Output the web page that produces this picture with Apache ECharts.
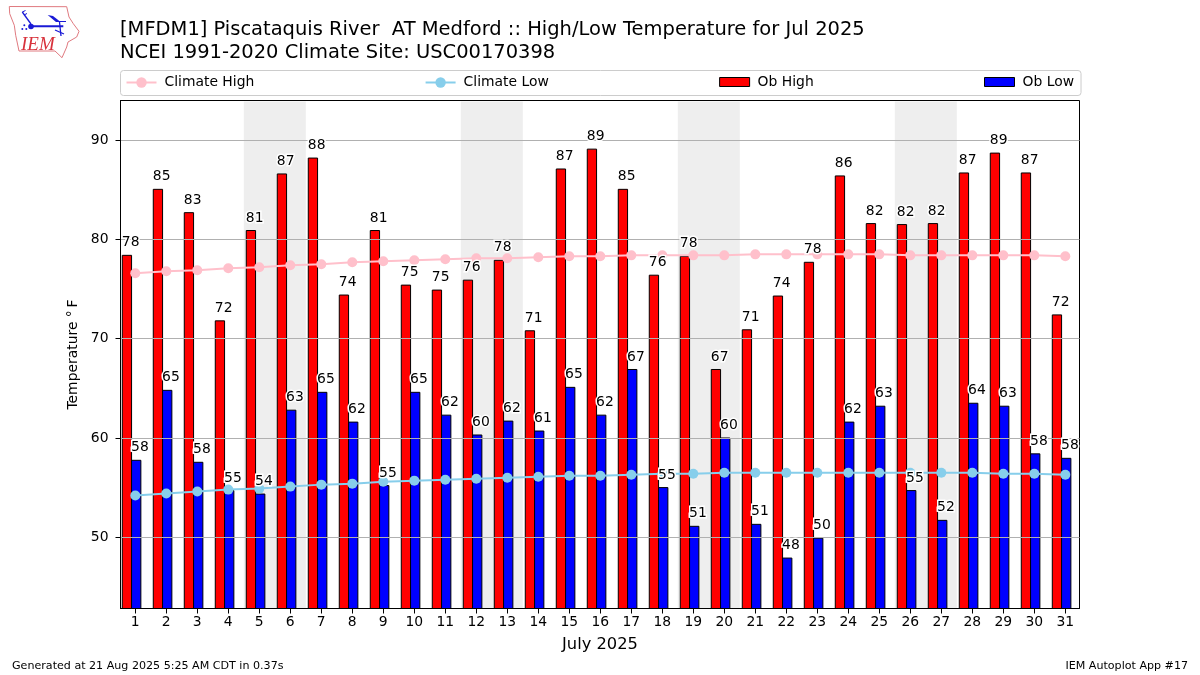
<!DOCTYPE html>
<html>
<head>
<meta charset="utf-8">
<script src="https://cdn.jsdelivr.net/npm/echarts@6/dist/echarts.min.js"></script>
<style>
html, body { margin: 0; padding: 0; background: #fff; }
#main { width: 1200px; height: 675px; }
</style>
</head>
<body>
<div id="main"></div>
<script>
var days = [1,2,3,4,5,6,7,8,9,10,11,12,13,14,15,16,17,18,19,20,21,22,23,24,25,26,27,28,29,30,31];
var obHigh = [78.4,85.05,82.7,71.8,80.9,86.6,88.2,74.4,80.9,75.4,74.9,75.9,77.9,70.8,87.1,89.1,85.05,76.4,78.3,66.9,70.9,74.3,77.7,86.4,81.6,81.5,81.6,86.7,88.7,86.7,72.4];
var obLow = [57.75,64.8,57.55,54.7,54.35,62.8,64.6,61.6,55.2,64.6,62.3,60.3,61.7,60.7,65.1,62.3,66.9,55.0,51.1,60.0,51.3,47.9,49.9,61.6,63.2,54.7,51.7,63.5,63.2,58.4,57.95];
var climateHigh = [76.6,76.8,76.9,77.1,77.2,77.4,77.5,77.7,77.8,77.9,78.0,78.1,78.1,78.2,78.3,78.3,78.4,78.4,78.4,78.4,78.5,78.5,78.5,78.5,78.5,78.4,78.4,78.4,78.4,78.4,78.3];
var climateLow = [54.2,54.4,54.6,54.8,54.9,55.1,55.3,55.4,55.6,55.7,55.8,55.9,56.0,56.1,56.2,56.2,56.3,56.4,56.4,56.5,56.5,56.5,56.5,56.5,56.5,56.5,56.5,56.5,56.4,56.4,56.3];
var weekendStarts = [5,12,19,26];
var yTicks = [50,60,70,80,90];

var xMin = 0.523, xMax = 31.458;
var yMin = 42.82, yMax = 94.0;
var fontName = '"DejaVu Sans"';
// rectangle legend icon, blank space above and below so it comes out shorter than the line icons
var rectIcon = 'path://M0,0 M0,1.5 H30 V10.5 H0 Z M30,13';

function pairs(vals) {
    return days.map(function (d, i) { return [d, vals[i]]; });
}

// bar drawn from the baseline up to the value, x edges are in days from the tick
function barRenderer(leftOff, rightOff, color) {
    return function (params, api) {
        var topLeft = api.coord([api.value(0) + leftOff, api.value(1)]);
        var bottomRight = api.coord([api.value(0) + rightOff, yMin]);
        return {
            type: 'rect',
            shape: { x: topLeft[0], y: topLeft[1], width: bottomRight[0] - topLeft[0], height: bottomRight[1] - topLeft[1] },
            style: { fill: color, stroke: '#000', lineWidth: 1 }
        };
    };
}

function labelRenderer(off) {
    return function (params, api) {
        var p = api.coord([api.value(0) + off, api.value(1)]);
        return {
            type: 'text',
            style: {
                text: String(Math.round(api.value(1))),
                x: p[0],
                y: p[1] - 12.5,
                align: 'center',
                verticalAlign: 'middle',
                fill: '#000',
                font: '13.9px ' + fontName,
                stroke: '#fff',
                lineWidth: 3
            }
        };
    };
}

function weekendRenderer(params, api) {
    var a = api.coord([api.value(0) - 0.5, yMax]);
    var b = api.coord([api.value(0) + 1.5, yMin]);
    return {
        type: 'rect',
        shape: { x: a[0], y: a[1] + 1, width: b[0] - a[0], height: b[1] - a[1] - 1 },
        style: { fill: '#eeeeee' }
    };
}

var myChart = echarts.init(document.getElementById('main'));

var option = {
    animation: false,
    backgroundColor: '#fff',
    textStyle: { fontFamily: fontName, color: '#000' },
    title: [
        {
            text: '[MFDM1] Piscataquis River  AT Medford :: High/Low Temperature for Jul 2025\nNCEI 1991-2020 Climate Site: USC00170398',
            left: 120, top: 19, padding: 0,
            textStyle: { fontFamily: fontName, fontSize: 19.48, fontWeight: 'normal', color: '#000', lineHeight: 22.5 }
        },
        {
            text: 'Generated at 21 Aug 2025 5:25 AM CDT in 0.37s',
            left: 12, top: 661, padding: 0,
            textStyle: { fontFamily: fontName, fontSize: 11.1, fontWeight: 'normal', color: '#000' }
        },
        {
            text: 'IEM Autoplot App #17',
            right: 12, top: 661, padding: 0,
            textStyle: { fontFamily: fontName, fontSize: 11.1, fontWeight: 'normal', color: '#000' }
        }
    ],
    legend: {
        left: 120.5, top: 70.5,
        padding: [5, 7, 6, 5],
        itemWidth: 30, itemHeight: 13, itemGap: 170.3,
        borderColor: '#ccc', borderWidth: 1, borderRadius: 3,
        selectedMode: false,
        textStyle: { fontFamily: fontName, fontSize: 13.9, color: '#000', padding: [0, 0, 0, 3] },
        data: [
            { name: 'Climate High' },
            { name: 'Climate Low' },
            { name: 'Ob High', icon: rectIcon, itemStyle: { color: 'red', borderColor: '#000', borderWidth: 1, borderJoin: 'miter' } },
            { name: 'Ob Low', icon: rectIcon, itemStyle: { color: 'blue', borderColor: '#000', borderWidth: 1, borderJoin: 'miter' } }
        ]
    },
    grid: { left: 120.5, top: 100.5, width: 959, height: 508, show: true, borderColor: '#000', borderWidth: 1, backgroundColor: '#fff' },
    xAxis: {
        type: 'value', min: xMin, max: xMax, z: 3,
        name: 'July 2025', nameLocation: 'middle', nameGap: 28,
        nameTextStyle: { fontFamily: fontName, fontSize: 16.3, color: '#000' },
        axisLine: { lineStyle: { color: '#000', width: 1 } },
        axisTick: { show: true, length: 5, customValues: days, lineStyle: { color: '#000' } },
        axisLabel: { customValues: days, fontFamily: fontName, fontSize: 13.9, color: '#000', margin: 7 },
        splitLine: { show: false }
    },
    yAxis: {
        type: 'value', min: yMin, max: yMax, z: 3,
        name: 'Temperature \u00b0\u2009F', nameLocation: 'middle', nameGap: 36,
        nameTextStyle: { fontFamily: fontName, fontSize: 13.9, color: '#000' },
        axisLine: { show: true, lineStyle: { color: '#000', width: 1 } },
        axisTick: { show: true, length: 5, customValues: yTicks, lineStyle: { color: '#000' } },
        axisLabel: { customValues: yTicks, fontFamily: fontName, fontSize: 13.9, color: '#000', margin: 12 },
        splitLine: { show: true, lineStyle: { color: '#b0b0b0', width: 1 } }
    },
    series: [
        { name: 'Weekend', type: 'custom', z: 1, silent: true, data: weekendStarts.map(function (d) { return [d, yMin]; }), encode: { x: 0, y: 1 }, renderItem: weekendRenderer },
        { name: 'Ob High', type: 'custom', z: 2, silent: true, data: pairs(obHigh), encode: { x: 0, y: 1 }, itemStyle: { color: 'red' }, renderItem: barRenderer(-0.42, -0.12, 'red') },
        { name: 'Ob Low', type: 'custom', z: 2, silent: true, data: pairs(obLow), encode: { x: 0, y: 1 }, itemStyle: { color: 'blue' }, renderItem: barRenderer(-0.12, 0.18, 'blue') },
        { name: 'Climate High', type: 'line', z: 4, silent: true, data: pairs(climateHigh), symbol: 'circle', symbolSize: 10, lineStyle: { color: 'pink', width: 2 }, itemStyle: { color: 'pink' } },
        { name: 'Climate Low', type: 'line', z: 4, silent: true, data: pairs(climateLow), symbol: 'circle', symbolSize: 10, lineStyle: { color: 'skyblue', width: 2 }, itemStyle: { color: 'skyblue' } },
        { name: 'Ob High Labels', type: 'custom', z: 5, silent: true, data: pairs(obHigh), encode: { x: 0, y: 1 }, renderItem: labelRenderer(-0.15) },
        { name: 'Ob Low Labels', type: 'custom', z: 5, silent: true, data: pairs(obLow), encode: { x: 0, y: 1 }, renderItem: labelRenderer(0.15) }
    ],
    // IEM logo, no image available so it is sketched
    graphic: [
        { type: 'polyline', z: 10, shape: { points: [[9.3,6.5],[66.7,6.7],[69,17],[73.3,23.7],[79,31.3],[76.7,37],[68,42],[66.7,47],[62,57.7],[55,51],[19,51],[15.7,35.3],[14.3,25.3],[9.7,13.7],[9.3,6.5]] }, style: { fill: 'none', stroke: '#e07a80', lineWidth: 1 } },
        { type: 'line', z: 10, shape: { x1: 31, y1: 26.3, x2: 63.3, y2: 26.3 }, style: { stroke: '#1a1ad6', lineWidth: 2 } },
        { type: 'circle', z: 10, shape: { cx: 31, cy: 26.5, r: 2.8 }, style: { fill: '#1a1ad6' } },
        { type: 'line', z: 10, shape: { x1: 31, y1: 24, x2: 22.3, y2: 12 }, style: { stroke: '#1a1ad6', lineWidth: 1.3 } },
        { type: 'line', z: 10, shape: { x1: 22.3, y1: 12, x2: 25.5, y2: 10.5 }, style: { stroke: '#1a1ad6', lineWidth: 1 } },
        { type: 'line', z: 10, shape: { x1: 24, y1: 15, x2: 27, y2: 13.5 }, style: { stroke: '#1a1ad6', lineWidth: 1 } },
        { type: 'polygon', z: 10, shape: { points: [[47.7,15],[53,16],[60,21.5],[56,22]] }, style: { fill: '#1a1ad6' } },
        { type: 'line', z: 10, shape: { x1: 56, y1: 21.5, x2: 66, y2: 21.5 }, style: { stroke: '#1a1ad6', lineWidth: 1 } },
        { type: 'line', z: 10, shape: { x1: 59.5, y1: 22, x2: 61, y2: 36 }, style: { stroke: '#1a1ad6', lineWidth: 1.3 } },
        { type: 'line', z: 10, shape: { x1: 55, y1: 30, x2: 64, y2: 34 }, style: { stroke: '#1a1ad6', lineWidth: 1.3 } },
        { type: 'circle', z: 10, shape: { cx: 24.3, cy: 25.3, r: 1 }, style: { fill: '#1a1ad6' } },
        { type: 'circle', z: 10, shape: { cx: 22.3, cy: 29, r: 1 }, style: { fill: '#1a1ad6' } },
        { type: 'circle', z: 10, shape: { cx: 26.3, cy: 29, r: 1 }, style: { fill: '#1a1ad6' } },
        { type: 'text', z: 10, style: { text: 'IEM', x: 21, y: 35.5, fill: '#d8323c', font: 'italic 19px "Liberation Serif"' } }
    ]
};

myChart.setOption(option);
</script>
</body>
</html>
